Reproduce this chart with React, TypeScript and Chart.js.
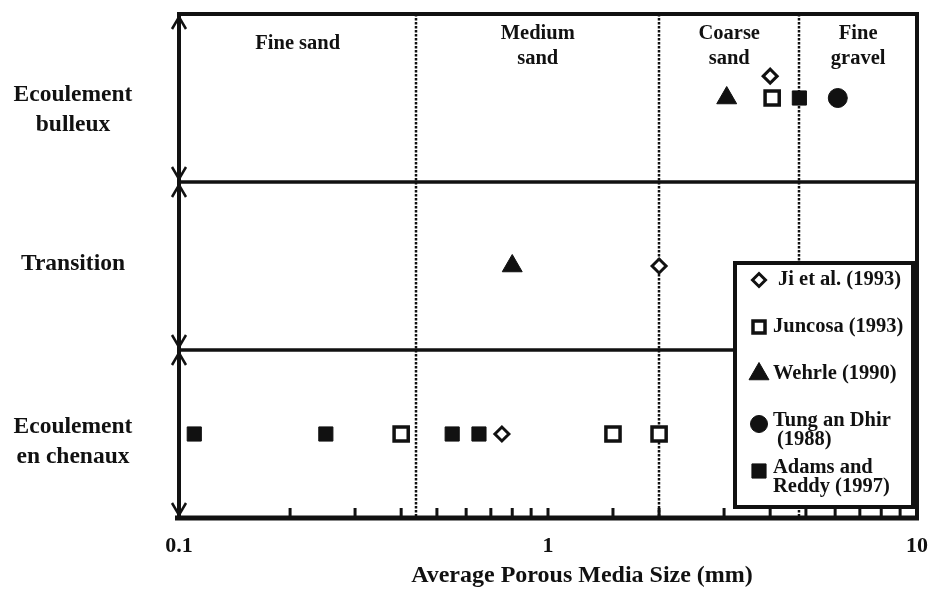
import React, { useEffect, useRef } from 'react';
import { Chart, registerables } from 'chart.js';

Chart.register(...registerables);

const SERIF = '"Liberation Serif", "Times New Roman", Times, serif';
const INK = '#111111';

// flow regimes (y categories), bottom to top
const regimeLabels: string[][] = [['Ecoulement', 'en chenaux'], ['Transition'], ['Ecoulement', 'bulleux']];
const regimeCenters = [0.5, 1.5, 2.5];
const regimeBounds = [0, 1, 2, 3];

// soil classes along x (mm)
const classBounds = [0.1, 0.44, 2, 4.8, 10];
const classLabels: string[][] = [['Fine sand'], ['Medium', 'sand'], ['Coarse', 'sand'], ['Fine', 'gravel']];

const xTickValues = [0.1, 1, 10];
const xTickLabels = ['0.1', '1', '10'];
const xTitle = 'Average Porous Media Size (mm)';

const seriesLabels: string[][] = [
  ['Ji et al. (1993)'],
  ['Juncosa (1993)'],
  ['Wehrle (1990)'],
  ['Tung an Dhir', '(1988)'],
  ['Adams and', 'Reddy (1997)'],
];

const jiSize = [4.0, 2.0, 0.75];
const jiRegime = [2.63, 1.5, 0.5];
const juncosaSize = [4.05, 0.4, 1.5, 2.0];
const juncosaRegime = [2.5, 0.5, 0.5, 0.5];
const wehrleSize = [3.05, 0.8];
const wehrleRegime = [2.5, 1.5];
const tungSize = [6.1];
const tungRegime = [2.5];
const adamsSize = [4.8, 0.11, 0.25, 0.55, 0.65];
const adamsRegime = [2.5, 0.5, 0.5, 0.5, 0.5];

const toPoints = (xs: number[], ys: number[]) => xs.map((x, i) => ({ x, y: ys[i] }));

type MarkerStyle = { shape: string; r: number; fill: string; bw: number; legendR: number };
const markerStyles: MarkerStyle[] = [
  { shape: 'rectRot', r: 7, fill: '#ffffff', bw: 3, legendR: 6.5 },
  { shape: 'rect', r: 10, fill: '#ffffff', bw: 3.5, legendR: 8.5 },
  { shape: 'triangle', r: 11.5, fill: INK, bw: 1, legendR: 11.5 },
  { shape: 'circle', r: 9.5, fill: INK, bw: 1, legendR: 8.5 },
  { shape: 'rect', r: 10, fill: INK, bw: 1, legendR: 10 },
];

// small visual nudges of the hand-placed regime labels (px), bottom to top
const regimeLabelNudge = [8, -2, 12];

function drawMarker(ctx: CanvasRenderingContext2D, shape: string, x: number, y: number, r: number, fill: string, bw: number) {
  ctx.beginPath();
  if (shape === 'circle') {
    ctx.arc(x, y, r, 0, Math.PI * 2);
  } else if (shape === 'rect') {
    const s = r * Math.SQRT1_2;
    ctx.rect(x - s, y - s, 2 * s, 2 * s);
  } else if (shape === 'rectRot') {
    ctx.moveTo(x - r, y);
    ctx.lineTo(x, y - r);
    ctx.lineTo(x + r, y);
    ctx.lineTo(x, y + r);
    ctx.closePath();
  } else if (shape === 'triangle') {
    for (let k = 0; k < 3; k++) {
      const a = (k * 2 * Math.PI) / 3;
      const px = x + Math.sin(a) * r;
      const py = y - Math.cos(a) * r;
      if (k === 0) ctx.moveTo(px, py);
      else ctx.lineTo(px, py);
    }
    ctx.closePath();
  }
  ctx.fillStyle = fill;
  ctx.fill();
  ctx.lineWidth = bw;
  ctx.strokeStyle = INK;
  ctx.stroke();
}

const line = (ctx: CanvasRenderingContext2D, x1: number, y1: number, x2: number, y2: number) => {
  ctx.beginPath();
  ctx.moveTo(x1, y1);
  ctx.lineTo(x2, y2);
  ctx.stroke();
};

const framePlugin = {
  id: 'frame',
  beforeDatasetsDraw(chart: any) {
    const { ctx, chartArea: a, scales } = chart;
    const xs = scales.x;
    const ys = scales.y;
    ctx.save();
    ctx.strokeStyle = INK;
    ctx.lineCap = 'butt';

    // dotted class boundaries
    ctx.lineWidth = 2.5;
    ctx.setLineDash([2.5, 1.5]);
    classBounds.slice(1, -1).forEach((v) => {
      const px = Math.round(xs.getPixelForValue(v));
      line(ctx, px, a.top, px, a.bottom);
    });
    ctx.setLineDash([]);

    // regime separators
    ctx.lineWidth = 3.5;
    regimeBounds.slice(1, -1).forEach((v) => {
      const py = Math.round(ys.getPixelForValue(v));
      line(ctx, a.left, py, a.right, py);
    });

    // frame
    ctx.lineWidth = 4;
    line(ctx, a.left - 2, a.top, a.right + 2, a.top);
    line(ctx, a.right, a.top, a.right, a.bottom);
    line(ctx, a.left, a.top, a.left, a.bottom);
    ctx.lineWidth = 5;
    line(ctx, a.left - 4, a.bottom, a.right + 2, a.bottom);

    // inward minor ticks
    ctx.lineWidth = 3;
    xs.ticks.forEach((t: any) => {
      const px = xs.getPixelForValue(t.value);
      if (px > a.left + 3 && px < a.right - 3) line(ctx, px, a.bottom, px, a.bottom - 10);
    });

    // double-headed arrows on the regime axis
    ctx.lineWidth = 2.5;
    for (let i = 0; i < regimeBounds.length - 1; i++) {
      const yb = ys.getPixelForValue(regimeBounds[i]);
      const yt = ys.getPixelForValue(regimeBounds[i + 1]);
      const x = a.left;
      ctx.beginPath();
      ctx.moveTo(x - 7, yt + 15);
      ctx.lineTo(x, yt + 3);
      ctx.lineTo(x + 7, yt + 15);
      ctx.stroke();
      ctx.beginPath();
      ctx.moveTo(x - 7, yb - 15);
      ctx.lineTo(x, yb - 3);
      ctx.lineTo(x + 7, yb - 15);
      ctx.stroke();
    }

    // class labels
    ctx.fillStyle = INK;
    ctx.font = `bold 20.5px ${SERIF}`;
    ctx.textAlign = 'center';
    ctx.textBaseline = 'middle';
    classLabels.forEach((lines, i) => {
      const c = Math.sqrt(classBounds[i] * classBounds[i + 1]);
      const px = xs.getPixelForValue(c);
      const y0 = lines.length === 1 ? a.top + 30 : a.top + 20;
      lines.forEach((s, k) => ctx.fillText(s, px, y0 + k * 25));
    });

    // regime labels (y categories)
    ctx.font = `bold 23.5px ${SERIF}`;
    regimeLabels.forEach((lines, i) => {
      const cy = ys.getPixelForValue(regimeCenters[i]) + regimeLabelNudge[i];
      const y0 = cy - ((lines.length - 1) * 30) / 2;
      lines.forEach((s, k) => ctx.fillText(s, 73, y0 + k * 30));
    });

    // x axis title
    ctx.font = `bold 24px ${SERIF}`;
    ctx.fillText(xTitle, (a.left + a.right) / 2 + 34, a.bottom + 58);
    ctx.restore();
  },
  afterDraw(chart: any) {
    const { ctx, chartArea: a } = chart;
    ctx.save();
    const left = a.right - 182;
    const right = a.right - 4;
    const top = a.top + 249;
    const bottom = a.bottom - 11;
    ctx.fillStyle = '#ffffff';
    ctx.fillRect(left, top, right - left, bottom - top);
    ctx.strokeStyle = INK;
    ctx.lineWidth = 4;
    ctx.strokeRect(left, top, right - left, bottom - top);

    ctx.font = `bold 20.5px ${SERIF}`;
    ctx.textAlign = 'left';
    ctx.textBaseline = 'middle';
    seriesLabels.forEach((lines, i) => {
      const y = top + 17 + i * 47;
      const st = markerStyles[i];
      drawMarker(ctx, st.shape, left + 24, y + (lines.length - 1) * 3, st.legendR, st.fill, st.bw);
      ctx.fillStyle = INK;
      const tx = left + (i === 0 ? 43 : 38);
      lines.forEach((s, k) => ctx.fillText(s, tx + (k > 0 && i === 3 ? 4 : 0), y + k * 19));
    });
    ctx.restore();
  },
};

export default function App() {
  const ref = useRef<HTMLCanvasElement | null>(null);

  useEffect(() => {
    const canvas = ref.current;
    if (!canvas) return;
    const series = [
      toPoints(jiSize, jiRegime),
      toPoints(juncosaSize, juncosaRegime),
      toPoints(wehrleSize, wehrleRegime),
      toPoints(tungSize, tungRegime),
      toPoints(adamsSize, adamsRegime),
    ];
    const chart = new Chart(canvas, {
      type: 'scatter',
      data: {
        datasets: series.map((data, i) => ({
          label: seriesLabels[i].join(' '),
          data,
          pointStyle: markerStyles[i].shape as any,
          pointRadius: markerStyles[i].r,
          pointBackgroundColor: markerStyles[i].fill,
          pointBorderColor: INK,
          pointBorderWidth: markerStyles[i].bw,
          showLine: false,
        })),
      },
      options: {
        animation: false,
        responsive: false,
        events: [],
        layout: { autoPadding: false, padding: { top: 14, right: 11, left: 0, bottom: 0 } },
        plugins: {
          legend: { display: false },
          tooltip: { enabled: false },
        },
        scales: {
          x: {
            type: 'logarithmic',
            min: 0.1,
            max: 10,
            grid: { display: false },
            border: { display: false },
            ticks: {
              autoSkip: false,
              maxRotation: 0,
              padding: 7,
              color: INK,
              font: { family: SERIF, size: 22, weight: 'bold' },
              callback: (v: any) => {
                const idx = xTickValues.findIndex((t) => Math.abs(t - Number(v)) < 1e-9);
                return idx >= 0 ? xTickLabels[idx] : '';
              },
            },
            title: { display: false },
            afterFit: (s: any) => {
              s.height = 74;
              s.paddingLeft = 0;
              s.paddingRight = 0;
            },
          },
          y: {
            type: 'linear',
            min: 0,
            max: 3,
            grid: { display: false },
            border: { display: false },
            ticks: { display: false },
            afterFit: (s: any) => {
              s.width = 179;
              s.paddingTop = 0;
              s.paddingBottom = 0;
            },
          },
        },
      },
      plugins: [framePlugin],
    });
    return () => chart.destroy();
  }, []);

  return (
    <div style={{ position: 'fixed', left: 0, top: 0, width: 928, height: 592, background: '#ffffff' }}>
      <canvas ref={ref} width={928} height={592} style={{ display: 'block' }} />
    </div>
  );
}
